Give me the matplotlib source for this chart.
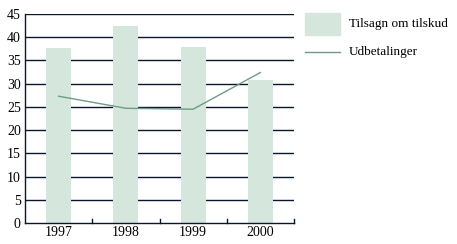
import matplotlib
matplotlib.use("Agg")
import matplotlib.pyplot as plt
from matplotlib.patches import Rectangle
from matplotlib.lines import Line2D

years = ["1997", "1998", "1999", "2000"]
tilsagn = [37.7, 42.4, 37.9, 30.8]
udbetalinger = [27.3, 24.7, 24.5, 32.4]
yticks = [0, 5, 10, 15, 20, 25, 30, 35, 40, 45]

plt.rcParams['font.family'] = ['Liberation Serif', 'DejaVu Serif']

fig = plt.figure(figsize=(4.57, 2.44), dpi=100)
ax = fig.add_axes([25/457, 21/244, 269/457, 209/244])

x = list(range(len(years)))
bar_c = "#d5e6dc"
line_c = "#6f9a88"
grid_c = "#0a1530"

for yv in yticks[1:]:
    ax.axhline(yv, color=grid_c, lw=1.0, zorder=1)
ax.bar(x, tilsagn, width=0.37, color=bar_c, zorder=2)
ax.plot(x, udbetalinger, color=line_c, lw=1.0, zorder=3)

ax.set_xlim(-0.5, 3.5)
ax.set_ylim(0, 45)
ax.set_yticks(yticks)
ax.set_yticklabels([str(v) for v in yticks], fontsize=10)
ax.tick_params(axis='y', length=0, pad=3)
ax.set_xticks(x)
ax.set_xticklabels(years, fontsize=10)
ax.tick_params(axis='x', length=0, pad=2)
for b in [0.5, 1.5, 2.5, 3.5]:
    ax.plot([b, b], [0, 0.9], color=grid_c, lw=1.0, clip_on=False, zorder=4)

for s in ['top', 'right']:
    ax.spines[s].set_visible(False)
for s in ['left', 'bottom']:
    ax.spines[s].set_color(grid_c)
    ax.spines[s].set_linewidth(1.0)

# legend
fig.patches.append(Rectangle((305/457, 1 - 35/244), 35/457, 22/244,
                             transform=fig.transFigure, color=bar_c))
fig.lines.append(Line2D([305/457, 340/457], [1 - 52/244, 1 - 52/244],
                        transform=fig.transFigure, color=line_c, lw=1.0))
fig.text(349/457, 1 - 24/244, "Tilsagn om tilskud", fontsize=9.5, va='center', ha='left')
fig.text(349/457, 1 - 52/244, "Udbetalinger", fontsize=9.5, va='center', ha='left')

fig.savefig("out.png", dpi=100)
